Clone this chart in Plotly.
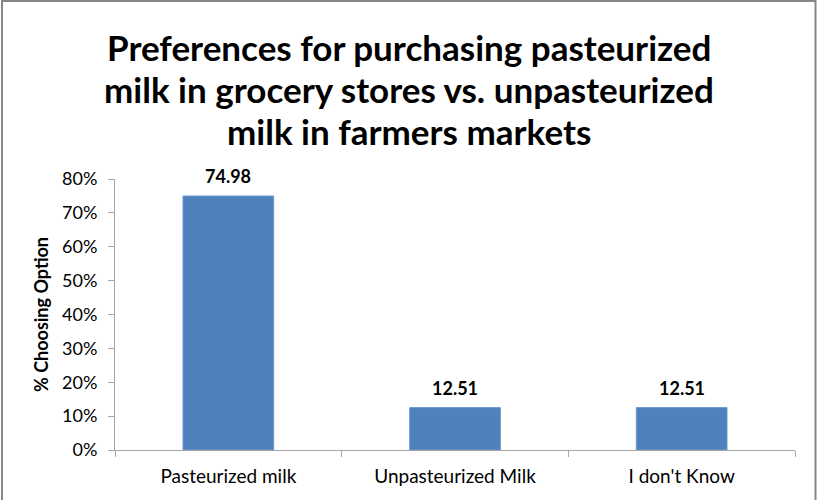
import plotly.graph_objects as go

# Survey results
categories = ["Pasteurized milk", "Unpasteurized Milk", "I don't Know"]
percent_choosing = [74.98, 12.51, 12.51]
y_ticks = [0, 10, 20, 30, 40, 50, 60, 70, 80]
y_tick_labels = [f"{v}%" for v in y_ticks]

title_lines = ["Preferences for purchasing pasteurized",
               "milk in grocery stores vs. unpasteurized",
               "milk in farmers markets"]

FONT = "Lato, Open Sans, sans-serif"
BAR = "#4F81BD"
AXIS = "#A6A6A6"
FRAME = "#878787"

W, H = 817, 500
L, R, T, B = 115, 22, 179, 50

fig = go.Figure(
    go.Bar(
        x=categories,
        y=percent_choosing,
        width=0.4,
        marker=dict(color=BAR, line=dict(color="#6A97CE", width=1)),
        hoverinfo="x+y",
    )
)

# value labels above each bar
for c, v in zip(categories, percent_choosing):
    fig.add_annotation(
        x=c, y=v, text=f"<b>{v:.2f}</b>", showarrow=False,
        yanchor="bottom", yshift=7,
        font=dict(family=FONT, size=18, color="#000000"),
    )

pw, ph = W - L - R, H - T - B
def px(xp):
    return (xp - L) / pw
def py(yp):
    return (H - B - yp) / ph

# chart title, one annotation per line
for i, line in enumerate(title_lines):
    fig.add_annotation(
        xref="paper", yref="paper", x=px(W / 2), y=py(47 + 42 * i),
        text=f"<b>{line}</b>", showarrow=False,
        xanchor="center", yanchor="middle",
        font=dict(family=FONT, size=35, color="#000000"),
    )

# chart frame (left, top, right edges)
frame = dict(color=FRAME, width=2)
fig.add_shape(type="line", xref="paper", yref="paper",
              x0=px(2), x1=px(2), y0=py(0), y1=py(H), line=frame)
fig.add_shape(type="line", xref="paper", yref="paper",
              x0=px(1), x1=px(816), y0=py(1), y1=py(1), line=frame)
fig.add_shape(type="line", xref="paper", yref="paper",
              x0=px(815.5), x1=px(815.5), y0=py(0), y1=py(H), line=frame)

fig.update_layout(
    width=W, height=H,
    margin=dict(l=L, r=R, t=T, b=B),
    paper_bgcolor="#FFFFFF",
    plot_bgcolor="#FFFFFF",
    showlegend=False,
    xaxis=dict(
        range=[-0.5, 2.5],
        showline=True, linecolor=AXIS, linewidth=1,
        ticks="outside", tickson="boundaries", ticklen=6, tickcolor=AXIS,
        tickfont=dict(family=FONT, size=19, color="#000000"),
        ticklabelstandoff=9,
        showgrid=False, zeroline=False,
    ),
    yaxis=dict(
        range=[0, 80],
        tickvals=y_ticks, ticktext=y_tick_labels,
        showline=True, linecolor=AXIS, linewidth=1,
        ticks="outside", ticklen=6, tickcolor=AXIS,
        tickfont=dict(family=FONT, size=18, color="#000000"),
        ticklabelstandoff=7,
        showgrid=False, zeroline=False,
        title=dict(text="<b>% Choosing Option</b>", standoff=8,
                   font=dict(family=FONT, size=18, color="#000000")),
    ),
)

fig.write_html("out.html")
